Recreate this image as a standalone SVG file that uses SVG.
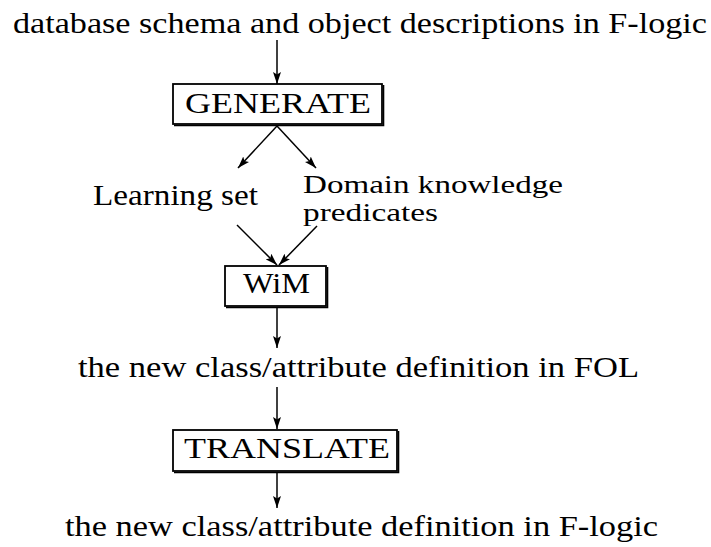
<svg xmlns="http://www.w3.org/2000/svg" width="711" height="547" viewBox="0 0 711 547">
  <style>
    text { font-size: 29px; fill: #000; }
    .tight { font-size: 25px; }
    .box { fill: #fff; stroke: #000; stroke-width: 1.8; }
    .shadow { fill: none; stroke: #000; stroke-width: 1.6; }
    .edge { fill: none; stroke: #000; stroke-width: 1.5; marker-end: url(#arrow); }
  </style>
  <defs>
    <marker id="arrow" viewBox="0 0 12 8" refX="12" refY="4" markerWidth="12" markerHeight="8" markerUnits="userSpaceOnUse" orient="auto">
      <path d="M0,0 L12,4 L0,8 L2.5,4 Z" fill="#000"/>
    </marker>
  </defs>

  <g font-family="Liberation Serif, serif">
    <!-- input and output descriptions -->
    <g id="input">
      <text x="13" y="33" textLength="694" lengthAdjust="spacingAndGlyphs">database schema and object descriptions in F-logic</text>
    </g>
    <g id="learning-set">
      <text x="93" y="205" textLength="165" lengthAdjust="spacingAndGlyphs">Learning set</text>
    </g>
    <g id="domain-knowledge">
      <text class="tight" x="303" y="193" textLength="260" lengthAdjust="spacingAndGlyphs">Domain knowledge</text>
      <text class="tight" x="303" y="221" textLength="135" lengthAdjust="spacingAndGlyphs">predicates</text>
    </g>
    <g id="fol-definition">
      <text x="78" y="377" textLength="561" lengthAdjust="spacingAndGlyphs">the new class/attribute definition in FOL</text>
    </g>
    <g id="flogic-definition">
      <text x="65" y="536" textLength="593" lengthAdjust="spacingAndGlyphs">the new class/attribute definition in F-logic</text>
    </g>

    <!-- processing steps -->
    <g id="generate">
      <rect class="box" x="173" y="84" width="209" height="40"/>
      <polyline class="shadow" points="383.5,85 383.5,125.5 174,125.5"/>
      <text x="185" y="113" textLength="186" lengthAdjust="spacingAndGlyphs">GENERATE</text>
    </g>
    <g id="wim">
      <rect class="box" x="225" y="266" width="101" height="40"/>
      <polyline class="shadow" points="327.5,267 327.5,307.5 226,307.5"/>
      <text x="243" y="293" textLength="67" lengthAdjust="spacingAndGlyphs">WiM</text>
    </g>
    <g id="translate">
      <rect class="box" x="173" y="430" width="224" height="41"/>
      <polyline class="shadow" points="398.5,431 398.5,472.5 174,472.5"/>
      <text x="184" y="458" textLength="206" lengthAdjust="spacingAndGlyphs">TRANSLATE</text>
    </g>
  </g>

  <!-- connectors -->
  <g id="connectors">
    <line class="edge" x1="277" y1="40" x2="277" y2="84"/>
    <line class="edge" x1="277" y1="126" x2="238" y2="168"/>
    <line class="edge" x1="277" y1="126" x2="316" y2="168"/>
    <line class="edge" x1="237" y1="225" x2="277" y2="265"/>
    <line class="edge" x1="317" y1="226" x2="279" y2="265"/>
    <line class="edge" x1="277" y1="308" x2="277" y2="348"/>
    <line class="edge" x1="277" y1="387" x2="277" y2="429"/>
    <line class="edge" x1="277" y1="473" x2="277" y2="508"/>
  </g>
</svg>
